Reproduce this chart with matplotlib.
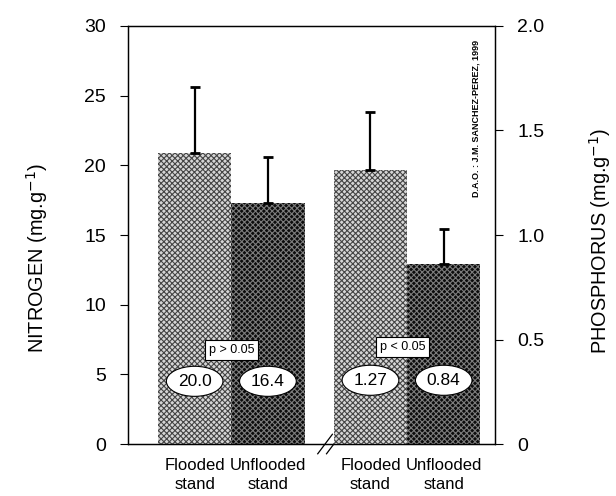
import matplotlib.pyplot as plt
from matplotlib import rcParams

rcParams['font.family'] = ['Liberation Sans Narrow', 'Liberation Sans', 'DejaVu Sans']
rcParams['hatch.linewidth'] = 0.8

categories = ['Flooded\nstand', 'Unflooded\nstand', 'Flooded\nstand', 'Unflooded\nstand']
nitrogen_mean = [20.9, 17.3]
nitrogen_err = [4.7, 3.3]
phosphorus_mean = [1.31, 0.86]
phosphorus_err = [0.28, 0.17]
nitrogen_labels = ['20.0', '16.4']
phosphorus_labels = ['1.27', '0.84']
p_texts = ['p > 0.05', 'p < 0.05']

x_n = [0, 1]
x_p = [2.4, 3.4]
light = dict(facecolor='#d6d6d6', edgecolor='#454545', hatch='xxxxxx', linewidth=0)
dark = dict(facecolor='#0c0c0c', edgecolor='#7c7c7c', hatch='xxxxxx', linewidth=0)

fig = plt.figure(figsize=(6.16, 4.96), dpi=100)
ax = fig.add_axes([0.2078, 0.1048, 0.5958, 0.8428])
ax2 = ax.twinx()

ax.bar(x_n[0], nitrogen_mean[0], width=1, **light)
ax.bar(x_n[1], nitrogen_mean[1], width=1, **dark)
ax2.bar(x_p[0], phosphorus_mean[0], width=1, **light)
ax2.bar(x_p[1], phosphorus_mean[1], width=1, **dark)

ekw = dict(fmt='none', ecolor='black', elinewidth=1.6, capsize=3.6, capthick=2)
ax.errorbar(x_n, nitrogen_mean, yerr=[[0, 0], nitrogen_err], **ekw)
ax2.errorbar(x_p, phosphorus_mean, yerr=[[0, 0], phosphorus_err], **ekw)

ax.set_xlim(-0.91, 4.1)
ax.set_ylim(0, 30)
ax2.set_ylim(0, 2.0)
ax.set_yticks([0, 5, 10, 15, 20, 25, 30])
ax2.set_yticks([0, 0.5, 1.0, 1.5, 2.0])
ax2.set_yticklabels(['0', '0.5', '1.0', '1.5', '2.0'])
ax.set_xticks(x_n + x_p)
ax.set_xticklabels(categories, fontsize=12, linespacing=1.3)
ax.tick_params(axis='x', length=0, pad=10)
ax.tick_params(axis='y', direction='out', length=6, labelsize=14, pad=10)
ax2.tick_params(axis='y', direction='out', length=6, labelsize=14, pad=10)
for a in (ax, ax2):
    for s in a.spines.values():
        s.set_linewidth(0.9)

ax.set_ylabel('NITROGEN (mg.g$^{-1}$)', fontsize=14.3)
ax2.set_ylabel('PHOSPHORUS (mg.g$^{-1}$)', fontsize=14.3)
ax.yaxis.set_label_coords(-0.213, 0.445)
ax2.yaxis.set_label_coords(1.25, 0.487)

# value ellipses and p boxes (drawn on the top axes so they stay above all bars)
for xv, t in zip(x_n, nitrogen_labels):
    ax2.text(xv, 0.30, t, ha='center', va='center', fontsize=12.5,
             bbox=dict(boxstyle='ellipse,pad=0.18', fc='white', ec='black', lw=0.8))
for xv, t in zip(x_p, phosphorus_labels):
    ax2.text(xv, 0.305, t, ha='center', va='center', fontsize=12.5,
             bbox=dict(boxstyle='ellipse,pad=0.18', fc='white', ec='black', lw=0.8))
ax2.text(0.5, 0.45, p_texts[0], ha='center', va='center', fontsize=9,
         bbox=dict(boxstyle='square,pad=0.3', fc='white', ec='black', lw=0.8))
ax2.text(2.84, 0.465, p_texts[1], ha='center', va='center', fontsize=9,
         bbox=dict(boxstyle='square,pad=0.3', fc='white', ec='black', lw=0.8))

ax2.text(3.84, 1.935, 'D.A.O. : J.M. SANCHEZ-PEREZ, 1999', rotation=90, ha='center',
         va='top', fontsize=6.5, fontweight='bold')

# axis break marks
for dx in (-0.06, 0.06):
    ax.plot([1.84 + dx - 0.1, 1.84 + dx + 0.1], [-0.7, 0.7], color='black',
            lw=0.9, clip_on=False)

fig.savefig('out.png', dpi=100)
